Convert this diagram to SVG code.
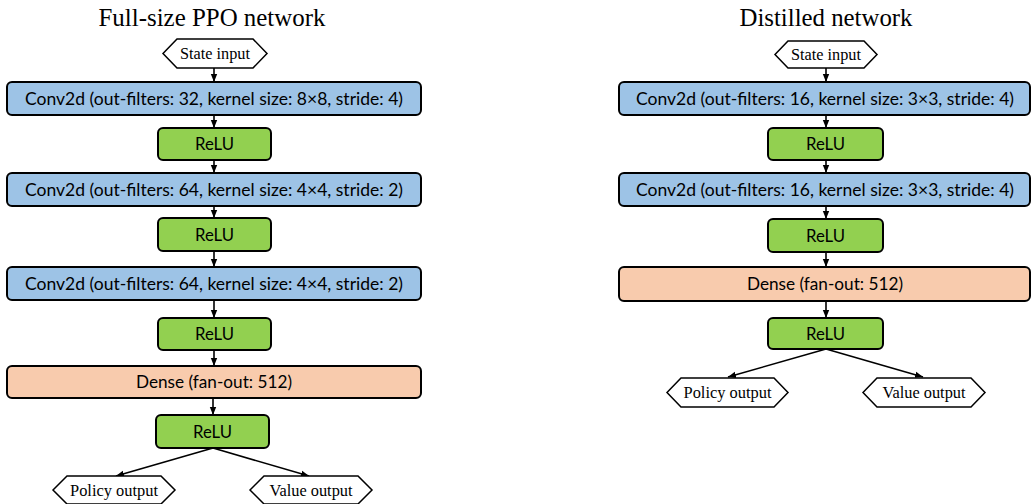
<svg xmlns="http://www.w3.org/2000/svg" width="1032" height="504" viewBox="0 0 1032 504">
<defs>
<style>
.title{font-family:"Liberation Serif","Times New Roman",serif;font-size:25px;fill:#000;text-anchor:middle}
.hex{fill:#fff;stroke:#000;stroke-width:1.5}
.hext{font-family:"Liberation Serif","Times New Roman",serif;font-size:16px;fill:#000;text-anchor:middle}
.conv{fill:#9DC3E6;stroke:#000;stroke-width:2}
.relu{fill:#92D050;stroke:#000;stroke-width:2}
.dense{fill:#F8CBAD;stroke:#000;stroke-width:2}
.bt{font-family:Lato,"Open Sans",sans-serif;font-size:16.5px;fill:#000;text-anchor:middle}
.edge{stroke:#000;stroke-width:1.6;fill:none;marker-end:url(#ah)}
</style>
<marker id="ah" markerUnits="userSpaceOnUse" markerWidth="8" markerHeight="8" viewBox="0 0 8 8" refX="8" refY="4" orient="auto">
<path d="M0,0.8 L8,4 L0,7.2 Z" fill="#000"/>
</marker>
</defs>
<rect width="1032" height="504" fill="#fff"/>

<text class="title" x="212" y="26" textLength="227" lengthAdjust="spacingAndGlyphs">Full-size PPO network</text>
<text class="title" x="826" y="26" textLength="173" lengthAdjust="spacingAndGlyphs">Distilled network</text>

<g id="connectors">
<line class="edge" x1="214" y1="68" x2="214" y2="82"/>
<line class="edge" x1="214" y1="115" x2="214" y2="128"/>
<line class="edge" x1="214" y1="160" x2="214" y2="173"/>
<line class="edge" x1="214" y1="206" x2="214" y2="218"/>
<line class="edge" x1="214" y1="251" x2="214" y2="267"/>
<line class="edge" x1="214" y1="300" x2="214" y2="318"/>
<line class="edge" x1="214" y1="350" x2="214" y2="366"/>
<line class="edge" x1="213" y1="398" x2="213" y2="415"/>
<line class="edge" x1="213" y1="448" x2="116" y2="476"/>
<line class="edge" x1="213" y1="448" x2="309" y2="476"/>

<line class="edge" x1="826" y1="68" x2="826" y2="82"/>
<line class="edge" x1="826" y1="115" x2="826" y2="128"/>
<line class="edge" x1="826" y1="160" x2="826" y2="173"/>
<line class="edge" x1="826" y1="206" x2="826" y2="219"/>
<line class="edge" x1="826" y1="252" x2="826" y2="267"/>
<line class="edge" x1="826" y1="301" x2="826" y2="318"/>
<line class="edge" x1="826" y1="349" x2="728" y2="377"/>
<line class="edge" x1="826" y1="349" x2="923" y2="377"/>
</g>

<g id="l-state">
<polygon class="hex" points="163,53.5 177,39 253,39 267,53.5 253,68 177,68"/>
<text class="hext" x="215" y="59" textLength="70" lengthAdjust="spacingAndGlyphs">State input</text>
</g>
<g id="l-conv1">
<rect class="conv" x="7" y="82" width="414" height="33" rx="5"/>
<text class="bt" x="214" y="104.5" textLength="378" lengthAdjust="spacingAndGlyphs">Conv2d (out-filters: 32, kernel size: 8×8, stride: 4)</text>
</g>
<g id="l-relu1">
<rect class="relu" x="158" y="128" width="113" height="32" rx="5"/>
<text class="bt" x="214.5" y="150" textLength="39" lengthAdjust="spacingAndGlyphs">ReLU</text>
</g>
<g id="l-conv2">
<rect class="conv" x="7" y="173" width="414" height="33" rx="5"/>
<text class="bt" x="214" y="195.5" textLength="378" lengthAdjust="spacingAndGlyphs">Conv2d (out-filters: 64, kernel size: 4×4, stride: 2)</text>
</g>
<g id="l-relu2">
<rect class="relu" x="158" y="218" width="113" height="33" rx="5"/>
<text class="bt" x="214.5" y="240.5" textLength="39" lengthAdjust="spacingAndGlyphs">ReLU</text>
</g>
<g id="l-conv3">
<rect class="conv" x="7" y="267" width="414" height="33" rx="5"/>
<text class="bt" x="214" y="289.5" textLength="378" lengthAdjust="spacingAndGlyphs">Conv2d (out-filters: 64, kernel size: 4×4, stride: 2)</text>
</g>
<g id="l-relu3">
<rect class="relu" x="158" y="318" width="113" height="32" rx="5"/>
<text class="bt" x="214.5" y="340" textLength="39" lengthAdjust="spacingAndGlyphs">ReLU</text>
</g>
<g id="l-dense">
<rect class="dense" x="7" y="366" width="414" height="32" rx="5"/>
<text class="bt" x="214" y="388" textLength="156" lengthAdjust="spacingAndGlyphs">Dense (fan-out: 512)</text>
</g>
<g id="l-relu4">
<rect class="relu" x="156" y="415" width="113" height="33" rx="5"/>
<text class="bt" x="212.5" y="437.5" textLength="39" lengthAdjust="spacingAndGlyphs">ReLU</text>
</g>
<g id="l-policy">
<polygon class="hex" points="53,490 67,476 161,476 175,490 161,504 67,504"/>
<text class="hext" x="114" y="495.5" textLength="88" lengthAdjust="spacingAndGlyphs">Policy output</text>
</g>
<g id="l-value">
<polygon class="hex" points="250,490 264,476 358,476 372,490 358,504 264,504"/>
<text class="hext" x="311" y="495.5" textLength="83" lengthAdjust="spacingAndGlyphs">Value output</text>
</g>

<g id="r-state">
<polygon class="hex" points="775,54.5 788,41 864,41 877,54.5 864,68 788,68"/>
<text class="hext" x="826" y="59.5" textLength="70" lengthAdjust="spacingAndGlyphs">State input</text>
</g>
<g id="r-conv1">
<rect class="conv" x="619" y="82" width="411" height="33" rx="5"/>
<text class="bt" x="825" y="104.5" textLength="378" lengthAdjust="spacingAndGlyphs">Conv2d (out-filters: 16, kernel size: 3×3, stride: 4)</text>
</g>
<g id="r-relu1">
<rect class="relu" x="768" y="128" width="115" height="32" rx="5"/>
<text class="bt" x="825.5" y="150" textLength="39" lengthAdjust="spacingAndGlyphs">ReLU</text>
</g>
<g id="r-conv2">
<rect class="conv" x="619" y="173" width="411" height="33" rx="5"/>
<text class="bt" x="825" y="195.5" textLength="378" lengthAdjust="spacingAndGlyphs">Conv2d (out-filters: 16, kernel size: 3×3, stride: 4)</text>
</g>
<g id="r-relu2">
<rect class="relu" x="768" y="219" width="115" height="33" rx="5"/>
<text class="bt" x="825.5" y="241.5" textLength="39" lengthAdjust="spacingAndGlyphs">ReLU</text>
</g>
<g id="r-dense">
<rect class="dense" x="619" y="267" width="411" height="34" rx="5"/>
<text class="bt" x="825" y="290" textLength="156" lengthAdjust="spacingAndGlyphs">Dense (fan-out: 512)</text>
</g>
<g id="r-relu3">
<rect class="relu" x="768" y="318" width="115" height="31" rx="5"/>
<text class="bt" x="825.5" y="339.5" textLength="39" lengthAdjust="spacingAndGlyphs">ReLU</text>
</g>
<g id="r-policy">
<polygon class="hex" points="667,392.5 681,378 774,378 788,392.5 774,407 681,407"/>
<text class="hext" x="727.5" y="398" textLength="88" lengthAdjust="spacingAndGlyphs">Policy output</text>
</g>
<g id="r-value">
<polygon class="hex" points="863,392.5 877,378 971,378 985,392.5 971,407 877,407"/>
<text class="hext" x="924" y="398" textLength="83" lengthAdjust="spacingAndGlyphs">Value output</text>
</g>
</svg>
